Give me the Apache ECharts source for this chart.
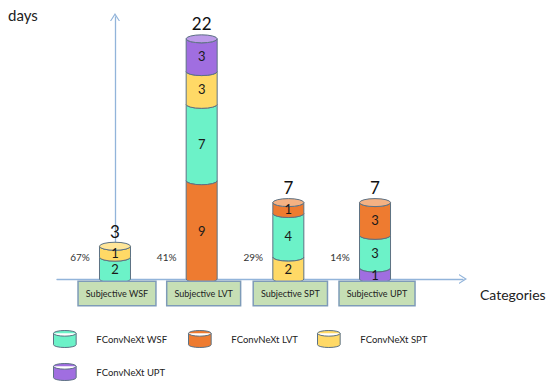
<!DOCTYPE html>
<html>
<head>
<meta charset="utf-8">
<script src="https://cdn.jsdelivr.net/npm/echarts@6/dist/echarts.min.js"></script>
<style>html,body{margin:0;padding:0;background:#fff}#c{width:550px;height:384px}</style>
</head>
<body>
<div id="c"></div>
<script>
// ---- data ----
const categories = ['Subjective WSF', 'Subjective LVT', 'Subjective SPT', 'Subjective UPT'];
const modelKeys = ['WSF', 'LVT', 'SPT', 'UPT'];
const modelNames = ['FConvNeXt WSF', 'FConvNeXt LVT', 'FConvNeXt SPT', 'FConvNeXt UPT'];
const daysWSF = [2, 7, 4, 3];
const daysLVT = [0, 9, 1, 3];
const daysSPT = [1, 3, 2, 0];
const daysUPT = [0, 3, 0, 1];
// stacking order from bottom to top per category
const stackOrder = [
  ['WSF', 'SPT'],
  ['LVT', 'WSF', 'SPT', 'UPT'],
  ['SPT', 'WSF', 'LVT'],
  ['UPT', 'WSF', 'LVT']
];
const percentLabels = ['67%', '41%', '29%', '14%'];

// ---- styles ----
const FONT = 'Lato, "Noto Sans", sans-serif';
const fills = { WSF: '#6cf2c8', LVT: '#ee7b30', SPT: '#ffd966', UPT: '#a06ee0' };
const topFills = { WSF: '#a4f8dd', LVT: '#f4b183', SPT: '#ffe699', UPT: '#bd9be9' };
const edge = '#5d7284';
const axisColor = '#92b4da';

const valuesByKey = { WSF: daysWSF, LVT: daysLVT, SPT: daysSPT, UPT: daysUPT };

function buildData(key) {
  const out = [];
  categories.forEach(function (c, ci) {
    const order = stackOrder[ci];
    const pos = order.indexOf(key);
    const v = valuesByKey[key][ci];
    if (pos < 0 || !v) return;
    let start = 0, total = 0;
    order.forEach(function (k, j) {
      total += valuesByKey[k][ci];
      if (j < pos) start += valuesByKey[k][ci];
    });
    out.push([ci, start, start + v, v, pos === order.length - 1 ? 1 : 0, total, pos]);
  });
  return out;
}

function segRenderer(key) {
  return function (params, api) {
    const ci = api.value(0), s = api.value(1), e = api.value(2), v = api.value(3);
    const isTop = api.value(4), total = api.value(5), pos = api.value(6);
    const pb = api.coord([ci, s]);
    const pt = api.coord([ci, e]);
    const base = api.coord([ci, 0]);
    const cx = pb[0], rx = 15.5, ry = 4;
    const l = cx - rx, r = cx + rx, yb = pb[1], yt = pt[1];
    const children = [{
      type: 'path',
      shape: { pathData: 'M' + l + ',' + yt + ' A' + rx + ',' + ry + ' 0 0 0 ' + r + ',' + yt +
        ' L' + r + ',' + yb + ' A' + rx + ',' + ry + ' 0 0 1 ' + l + ',' + yb + ' Z' },
      style: { fill: fills[key], stroke: edge, lineWidth: 1 }
    }];
    if (isTop) {
      children.push({
        type: 'path',
        shape: { pathData: 'M' + l + ',' + yt + ' A' + rx + ',' + ry + ' 0 0 1 ' + r + ',' + yt +
          ' A' + rx + ',' + ry + ' 0 0 1 ' + l + ',' + yt + ' Z' },
        style: { fill: topFills[key], stroke: edge, lineWidth: 1 }
      });
      children.push({
        type: 'text',
        style: { text: String(total), x: cx, y: yt - ry - 11, align: 'center', verticalAlign: 'middle',
          font: '17px ' + FONT, fill: '#111' }
      });
    }
    children.push({
      type: 'text',
      style: { text: String(v), x: cx, y: (yt + yb) / 2 + 1, align: 'center', verticalAlign: 'middle',
        font: '13px ' + FONT, fill: '#1a1a1a' }
    });
    if (pos === 0) {
      children.push({
        type: 'text',
        style: { text: percentLabels[ci], x: cx - 35, y: base[1] - 22, align: 'center', verticalAlign: 'middle',
          font: '10px ' + FONT, fill: '#333' }
      });
    }
    return { type: 'group', children: children };
  };
}

const chevron = 'path://M0,8 L5,0 L10,8 L8.8,8 L5,2.2 L1.2,8 Z';

const series = modelKeys.map(function (key, k) {
  return {
    type: 'custom',
    name: modelNames[k],
    itemStyle: { color: fills[key] },
    renderItem: segRenderer(key),
    encode: { x: 0, y: [1, 2] },
    data: buildData(key),
    silent: true
  };
});

series.push({
  type: 'custom',
  name: 'categoryBoxes',
  silent: true,
  encode: { x: 0, y: 1 },
  data: categories.map(function (c, i) { return [i, 0]; }),
  renderItem: function (params, api) {
    const p = api.coord([api.value(0), 0]);
    return {
      type: 'text',
      style: {
        text: categories[api.value(0)], x: p[0] + 2, y: p[1] + 3, align: 'center', verticalAlign: 'top',
        font: '9px ' + FONT, fill: '#222',
        backgroundColor: '#c6dfb5', borderColor: '#7e9bb8', borderWidth: 1.5, padding: [7, 7, 7, 7]
      }
    };
  }
});

const legendPos = [[53, 330], [188, 330], [317, 330], [53, 363]];
const legends = modelKeys.map(function (key, k) {
  return {
    data: [{ name: modelNames[k], itemStyle: { color: fills[key], borderColor: edge, borderWidth: 1 } }],
    left: legendPos[k][0], top: legendPos[k][1], padding: 0,
    icon: 'path://M0,3 A12,3 0 0 1 24,3 L24,15 A12,3 0 0 1 0,15 Z M0,3 A12,3 0 0 0 24,3',
    itemWidth: 25, itemHeight: 17, selectedMode: false,
    textStyle: { fontSize: 9.5, fontFamily: FONT, color: '#222', padding: [0, 0, 0, 14] }
  };
});

const chart = echarts.init(document.getElementById('c'), null, { renderer: 'svg' });
chart.setOption({
  animation: false,
  title: { text: 'days', left: 3, top: 2, textStyle: { fontSize: 15, fontWeight: 'normal', fontFamily: FONT, color: '#222' } },
  graphic: [{ type: 'text', left: 480, top: 287, style: { text: 'Categories', font: '14px ' + FONT, fill: '#222' } }],
  legend: legends,
  grid: { left: 57, right: 87, top: 17, bottom: 105 },
  xAxis: {
    type: 'value', min: -0.669, max: 4.015,
    axisLine: { show: true, symbol: ['none', chevron], symbolSize: [10, 8], lineStyle: { color: axisColor, width: 1.3 } },
    axisTick: { show: false }, axisLabel: { show: false }, splitLine: { show: false }
  },
  yAxis: {
    type: 'value', min: 0, max: 24,
    axisLine: { show: true, symbol: ['none', chevron], symbolSize: [10, 8], lineStyle: { color: axisColor, width: 1.3 } },
    axisTick: { show: false }, axisLabel: { show: false }, splitLine: { show: false }
  },
  series: series
});
</script>
</body>
</html>
